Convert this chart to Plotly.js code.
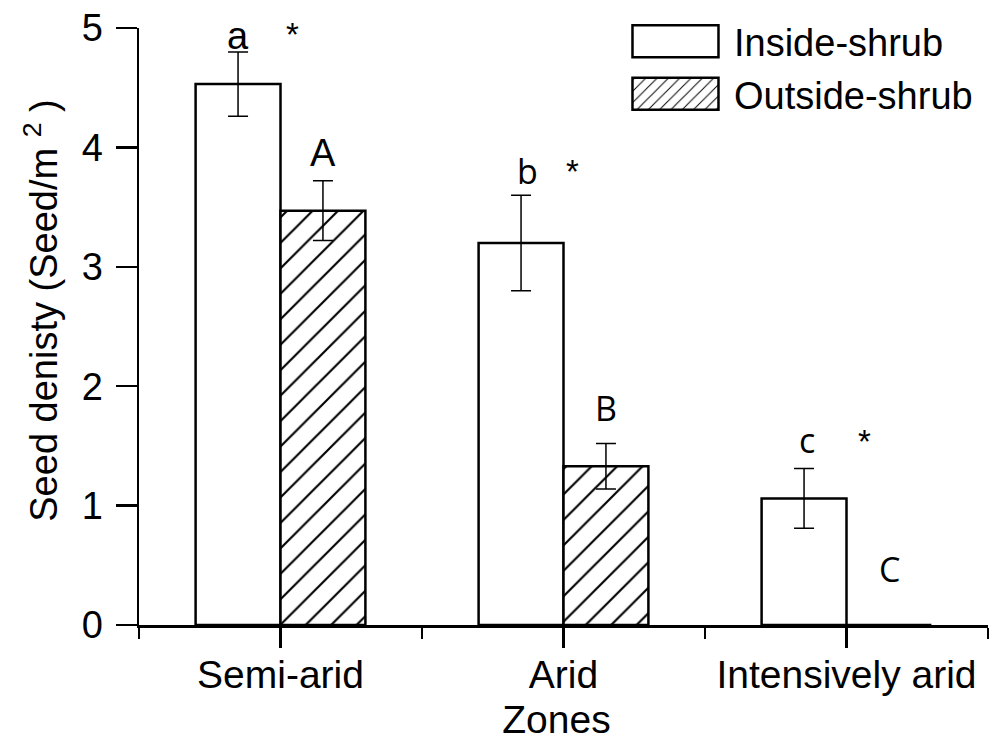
<!DOCTYPE html>
<html>
<head>
<meta charset="utf-8">
<script src="https://cdn.plot.ly/plotly-3.0.1.min.js"></script>
<style>html,body{margin:0;padding:0;background:#fff;}#chart{width:998px;height:738px;}</style>
</head>
<body>
<div id="chart"></div>
<script>
// ---- data ----
const zones = ['Semi-arid', 'Arid', 'Intensively arid'];
const insideMean = [4.53, 3.20, 1.06];
const insideErr = [0.27, 0.40, 0.25];
const outsideMean = [3.47, 1.33, 0];
const outsideErr = [0.25, 0.19, 0];
const insideLetters = ['a', 'b', 'c'];
const outsideLetters = ['A', 'B', 'C'];
const sigMarks = ['*', '*', '*'];
const seriesNames = ['Inside-shrub', 'Outside-shrub'];
const yTitle = 'Seed denisty (Seed/m <sup>2</sup> )';
const xTitle = 'Zones';

// ---- styling ----
const FONT = 'Liberation Sans, Arial, sans-serif';
const ALT = 'Open Sans, sans-serif';
const idx = zones.map((_, i) => i);

const traces = [
  {
    type: 'bar', name: seriesNames[0], x: idx, y: insideMean,
    marker: {color: '#ffffff', line: {color: '#000', width: 2.5}},
    error_y: {type: 'data', array: insideErr, visible: true, color: '#000', thickness: 1.5, width: 10}
  },
  {
    type: 'bar', name: seriesNames[1], x: idx, y: outsideMean,
    marker: {color: '#ffffff', line: {color: '#000', width: 2.5},
      pattern: {shape: '/', size: 18, solidity: 0.12, fgcolor: '#000', bgcolor: '#fff'}},
    error_y: {type: 'data', array: outsideErr, visible: true, color: '#000', thickness: 1.5, width: 10}
  }
];

// annotation placement (pixel shifts relative to the error-bar tops)
const insideXShift = [-42.5, -36.5, -40];
const insideShift = [16, 24, 29];
const outsideShift = [28, 36, 56];
const starXShift = [12, 9, 18];
const starShift = [17, 24, 27];
const annotations = [];
idx.forEach(i => {
  annotations.push({x: i, xshift: insideXShift[i], y: insideMean[i] + insideErr[i], yshift: insideShift[i],
    text: insideLetters[i], showarrow: false, yanchor: 'middle',
    font: {family: i === 0 ? FONT : ALT, size: i === 0 ? 38 : 34, color: '#000'}});
  annotations.push({x: i, xshift: 42.5, y: outsideMean[i] + outsideErr[i], yshift: outsideShift[i],
    text: outsideLetters[i], showarrow: false, yanchor: 'middle',
    font: {family: i === 0 ? FONT : ALT, size: i === 0 ? 38 : 34, color: '#000'}});
  annotations.push({x: i, xshift: starXShift[i], y: insideMean[i] + insideErr[i], yshift: starShift[i],
    text: sigMarks[i], showarrow: false, yanchor: 'middle',
    font: {family: FONT, size: 33, color: '#000'}});
});

const layout = {
  width: 998, height: 738,
  margin: {l: 139, r: 10, t: 28, b: 113},
  paper_bgcolor: '#fff', plot_bgcolor: '#fff',
  font: {family: FONT, size: 36, color: '#000'},
  barmode: 'group', bargap: 0.4, bargroupgap: 0,
  showlegend: true,
  legend: {x: 0.563, xanchor: 'left', y: 1.03, yanchor: 'top', bgcolor: 'rgba(0,0,0,0)',
    font: {family: FONT, size: 38, color: '#000'}, itemwidth: 107, tracegroupgap: 0},
  xaxis: {
    range: [-0.5, 2.5], tickmode: 'array', tickvals: idx, ticktext: zones,
    showline: true, linecolor: '#000', linewidth: 2.5, mirror: false,
    ticks: 'outside', ticklen: 20, tickwidth: 2.5, tickcolor: '#000',
    ticklabelstandoff: -6,
    minor: {tick0: -0.5, dtick: 1, ticks: 'outside', ticklen: 11, tickwidth: 2.5, tickcolor: '#000', showgrid: false},
    showgrid: false, zeroline: false,
    tickfont: {family: FONT, size: 39, color: '#000'},
    title: {text: xTitle, font: {family: FONT, size: 39, color: '#000'}, standoff: 19}
  },
  yaxis: {
    range: [0, 5], dtick: 1, tick0: 0,
    showline: true, linecolor: '#000', linewidth: 2.5,
    ticks: 'outside', ticklen: 21, tickwidth: 2.5, tickcolor: '#000',
    ticklabelstandoff: 5,
    showgrid: false, zeroline: false,
    tickfont: {family: FONT, size: 38, color: '#000'},
    title: {text: yTitle, font: {family: FONT, size: 38, color: '#000'}, standoff: 13}
  },
  annotations: annotations
};

function nudge(el, dx, dy) {
  if (!el) return;
  const t = el.getAttribute('transform') || '';
  el.setAttribute('transform', 'translate(' + dx + ',' + dy + ') ' + t);
}

Plotly.newPlot('chart', traces, layout, {staticPlot: true, displayModeBar: false}).then(gd => {
  // enlarge legend swatches to the wide boxes used in the original
  gd.querySelectorAll('.legend .traces').forEach(tr => {
    tr.querySelectorAll('.legendpoints path').forEach(p => {
      p.setAttribute('d', 'M-43,-16H43V16H-43Z');
      p.style.strokeWidth = '2.5px';
      p.style.stroke = '#000';
    });
  });
  // small nudges of the axis titles to match the original placement
  nudge(gd.querySelector('.g-ytitle'), 0, -16);
  nudge(gd.querySelector('.g-xtitle'), -7, 3);
});
</script>
</body>
</html>
